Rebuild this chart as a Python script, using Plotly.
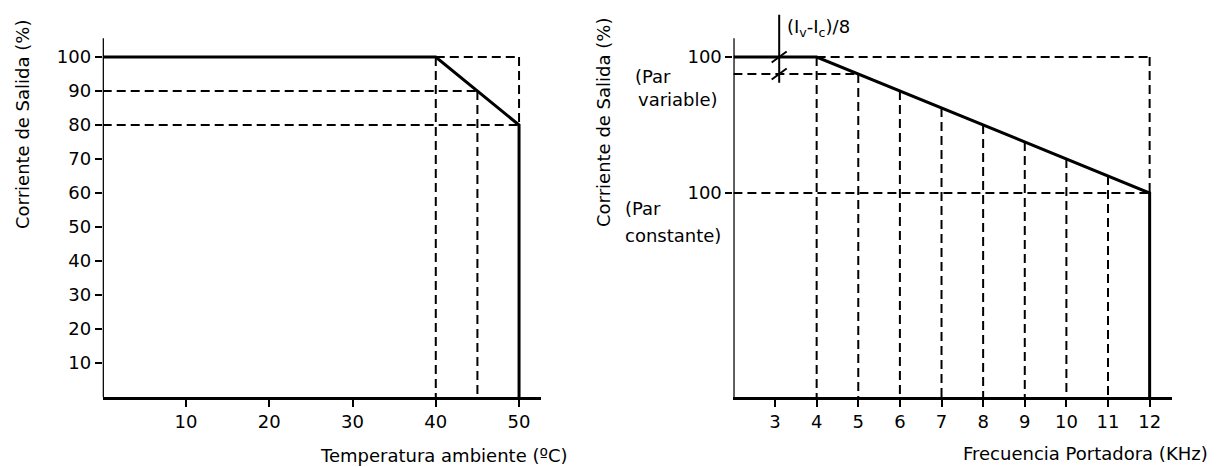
import numpy as np
import plotly.graph_objects as go

# ---------------- data ----------------
# Left: output current vs ambient temperature
temp_c = [0, 40, 50, 50]
temp_current = [100, 100, 80, 0]
temp_xticks = [10, 20, 30, 40, 50]
temp_yticks = [10, 20, 30, 40, 50, 60, 70, 80, 90, 100]
temp_guide_levels = [90, 80]      # dashed horizontals
temp_guide_temps = [40, 45]       # dashed verticals

# Right: output current vs carrier frequency
I_V = 100   # rated current, variable torque
I_C = 60    # rated current, constant torque (same scale)
freq_khz = [2, 4, 12, 12]
freq_current = [I_V, I_V, I_C, 0]
freq_xticks = [3, 4, 5, 6, 7, 8, 9, 10, 11, 12]
freq_yticks = [I_C, I_V]
freq_yticktext = ["100", "100"]
freq_guides = [4, 5, 6, 7, 8, 9, 10, 11]
step_marker_x = 3.1

# ---------------- layout constants ----------------
W, H = 1220, 467
MT, MB = 13, 70
PLOT_H = H - MT - MB
PX_PER_UNIT = 3.4
Y_TOP = PLOT_H / PX_PER_UNIT
AXIS_TOP = 105.5
FONT = "DejaVu Sans"
FS = 18
DASH = "9px,5px"


def paper_x(px):
    return px / W


def paper_y(py):
    return (H - MB - py) / PLOT_H


def segs(pairs):
    xs, ys = [], []
    for (x0, y0), (x1, y1) in pairs:
        xs += [x0, x1, None]
        ys += [y0, y1, None]
    return xs, ys


fig = go.Figure()

# ---------- left chart ----------
def temp_curve(x):
    return float(np.interp(x, temp_c[:3], temp_current[:3]))


def temp_at_level(level):
    return float(np.interp(level, temp_current[1:3][::-1], temp_c[1:3][::-1]))


left_pairs = []
for lvl in temp_guide_levels:
    left_pairs.append(((0, lvl), (temp_at_level(lvl), lvl)))
for t in temp_guide_temps:
    left_pairs.append(((t, temp_curve(t)), (t, 0)))
# box around the derating segment
left_pairs.append(((temp_c[1], temp_current[1]), (temp_c[2], temp_current[1])))
left_pairs.append(((temp_c[2], temp_current[1]), (temp_c[2], temp_current[2])))
lx, ly = segs(left_pairs)
fig.add_trace(go.Scatter(x=lx, y=ly, mode="lines", xaxis="x", yaxis="y",
                         line=dict(color="black", width=2, dash=DASH),
                         hoverinfo="skip", showlegend=False))
# y axis line
fig.add_trace(go.Scatter(x=[0, 0], y=[0, AXIS_TOP], mode="lines", xaxis="x", yaxis="y",
                         line=dict(color="black", width=2.5), hoverinfo="skip",
                         showlegend=False))
fig.add_trace(go.Scatter(x=temp_c, y=temp_current, mode="lines", xaxis="x", yaxis="y",
                         line=dict(color="black", width=3), showlegend=False))

# ---------- right chart ----------
def freq_curve(x):
    return float(np.interp(x, freq_khz[:3], freq_current[:3]))


step = (I_V - I_C) / 8
step_level = I_V - step
right_pairs = []
for f in freq_guides:
    right_pairs.append(((f, freq_curve(f)), (f, 0)))
right_pairs.append(((freq_khz[1], I_V), (freq_khz[2], I_V)))
right_pairs.append(((freq_khz[2], I_V), (freq_khz[2], I_C)))
right_pairs.append(((freq_khz[0], I_C), (freq_khz[2], I_C)))
right_pairs.append(((freq_khz[0], step_level), (freq_khz[1] + 1, step_level)))
rx, ry = segs(right_pairs)
fig.add_trace(go.Scatter(x=rx, y=ry, mode="lines", xaxis="x2", yaxis="y2",
                         line=dict(color="black", width=2, dash=DASH),
                         hoverinfo="skip", showlegend=False))

# step marker: vertical bar with ticks at both levels
mk_pairs = [((step_marker_x, 92.4), (step_marker_x, 112.4))]
for lvl in (I_V, step_level):
    mk_pairs.append(((step_marker_x - 0.18, lvl - 1.6), (step_marker_x + 0.18, lvl + 1.6)))
mx, my = segs(mk_pairs)
fig.add_trace(go.Scatter(x=mx, y=my, mode="lines", xaxis="x2", yaxis="y2",
                         line=dict(color="black", width=2), hoverinfo="skip",
                         showlegend=False))
fig.add_trace(go.Scatter(x=[2, 2], y=[0, AXIS_TOP], mode="lines", xaxis="x2", yaxis="y2",
                         line=dict(color="black", width=2.5), hoverinfo="skip",
                         showlegend=False))
fig.add_trace(go.Scatter(x=freq_khz, y=freq_current, mode="lines", xaxis="x2", yaxis="y2",
                         line=dict(color="black", width=3), showlegend=False))

tickfont = dict(family=FONT, size=FS, color="black")
xcommon = dict(showline=True, linecolor="black", linewidth=2.5, ticks="outside",
               ticklen=7, tickwidth=2, tickcolor="black", showgrid=False,
               zeroline=False, tickfont=tickfont, automargin=False)
ycommon = dict(showline=False, ticks="outside", ticklen=7, tickwidth=2,
               tickcolor="black", showgrid=False, zeroline=False, tickfont=tickfont,
               range=[0, Y_TOP], automargin=False)

fig.update_layout(
    width=W, height=H,
    margin=dict(l=0, r=0, t=MT, b=MB),
    paper_bgcolor="white", plot_bgcolor="white",
    font=dict(family=FONT, size=FS, color="black"),
    xaxis=dict(domain=[paper_x(102.7), paper_x(540.7)], range=[0, 52.6],
               tickvals=temp_xticks, anchor="y", **xcommon),
    yaxis=dict(domain=[0, 1], tickvals=temp_yticks, anchor="x", **ycommon),
    xaxis2=dict(domain=[paper_x(733.4), paper_x(1171.7)], range=[2, 12.53],
                tickvals=freq_xticks, anchor="y2", **xcommon),
    yaxis2=dict(domain=[0, 1], tickvals=freq_yticks, ticktext=freq_yticktext,
                anchor="x2", **ycommon),
)

ann = []


def label(text, px, py, xanchor="left", angle=0):
    ann.append(dict(text=text, x=paper_x(px), y=paper_y(py), xref="paper", yref="paper",
                    xanchor=xanchor, yanchor="middle", showarrow=False,
                    textangle=angle, font=dict(family=FONT, size=FS, color="black")))


label("Corriente de Salida (%)", 23, 125, xanchor="center", angle=-90)
label("Corriente de Salida (%)", 603, 123, xanchor="center", angle=-90)
label("Temperatura ambiente (ºC)", 570, 455, xanchor="right")
label("Frecuencia Portadora (KHz)", 1210, 453, xanchor="right")
label("(Par", 633, 76)
label("variable)", 720, 99.5, xanchor="right")
label("(Par", 623, 208)
label("constante)", 623, 235)
label("(I<sub>v</sub>-I<sub>c</sub>)/8", 785, 28)
fig.update_layout(annotations=ann)

fig.write_html("out.html")
